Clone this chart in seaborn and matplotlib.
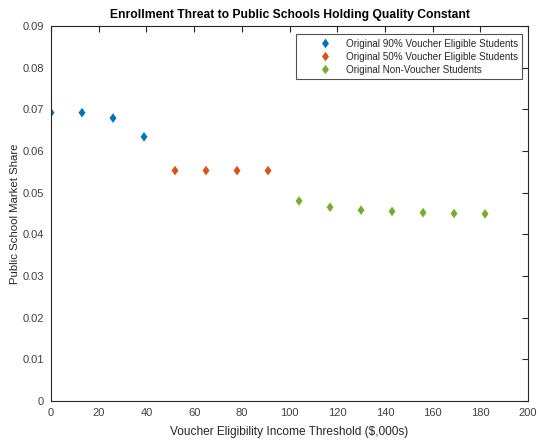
import matplotlib
matplotlib.use("Agg")
import matplotlib.pyplot as plt
from matplotlib.path import Path
import seaborn as sns
import pandas as pd

# Voucher eligibility income thresholds ($,000s) and public school market share
threshold_90 = [0, 13, 26, 39]
share_90 = [0.0692, 0.0692, 0.0679, 0.0634]

threshold_50 = [52, 65, 78, 91]
share_50 = [0.0553, 0.0553, 0.0553, 0.0553]

threshold_non = [104, 117, 130, 143, 156, 169, 182]
share_non = [0.0480, 0.0465, 0.0458, 0.0455, 0.0452, 0.0450, 0.0449]

group_names = [
    "Original 90% Voucher Eligible Students",
    "Original 50% Voucher Eligible Students",
    "Original Non-Voucher Students",
]
group_colors = ["#0072BD", "#D95319", "#77AC30"]

df = pd.concat([
    pd.DataFrame({"threshold": threshold_90, "share": share_90, "group": group_names[0]}),
    pd.DataFrame({"threshold": threshold_50, "share": share_50, "group": group_names[1]}),
    pd.DataFrame({"threshold": threshold_non, "share": share_non, "group": group_names[2]}),
], ignore_index=True)

sns.set_style("white")
plt.rcParams["font.family"] = ["Liberation Sans", "DejaVu Sans"]

# slightly narrow diamond marker
diamond = Path([(0, 1), (0.72, 0), (0, -1), (-0.72, 0), (0, 1)],
               [Path.MOVETO, Path.LINETO, Path.LINETO, Path.LINETO, Path.CLOSEPOLY])

axis_color = "#262626"
fig = plt.figure(figsize=(5.38, 4.41), dpi=100)
ax = fig.add_axes([51 / 538, 1 - 401 / 441, (528 - 51) / 538, (401 - 26) / 441])

sns.scatterplot(
    data=df, x="threshold", y="share", hue="group",
    hue_order=group_names, palette=group_colors,
    marker=diamond, s=48, edgecolor="none", ax=ax,
)

ax.set_xlim(0, 200)
ax.set_ylim(0, 0.09)
ax.set_xticks(range(0, 201, 20))
ax.set_yticks([i / 100 for i in range(0, 10)])
ax.set_yticklabels(["0"] + [f"{i / 100:.2f}" for i in range(1, 10)])

for side in ["top", "right", "bottom", "left"]:
    ax.spines[side].set_visible(True)
    ax.spines[side].set_color(axis_color)
    ax.spines[side].set_linewidth(0.8)
ax.tick_params(direction="in", length=4, width=0.8, colors=axis_color,
               labelsize=8, top=True, right=True, pad=5)
for lbl in ax.get_xticklabels() + ax.get_yticklabels():
    lbl.set_color("#404040")

ax.set_xlabel("Voucher Eligibility Income Threshold ($,000s)", fontsize=8.6,
              color=axis_color, labelpad=6)
ax.set_ylabel("Public School Market Share", fontsize=8.2, color=axis_color)
ax.yaxis.set_label_coords(-0.064, 0.5)
ax.set_title("Enrollment Threat to Public Schools Holding Quality Constant",
             fontsize=8.75, fontweight="bold", color="black", pad=6)

leg = ax.legend(loc="upper right", bbox_to_anchor=(0.988, 0.978), fontsize=7.1,
                frameon=True, fancybox=False, borderpad=0.45, handletextpad=-0.45,
                labelspacing=0.3, handlelength=5.0, borderaxespad=0)
leg.get_frame().set_edgecolor(axis_color)
leg.get_frame().set_linewidth(0.8)
for txt in leg.get_texts():
    txt.set_color(axis_color)

fig.savefig("out.png", dpi=100)
